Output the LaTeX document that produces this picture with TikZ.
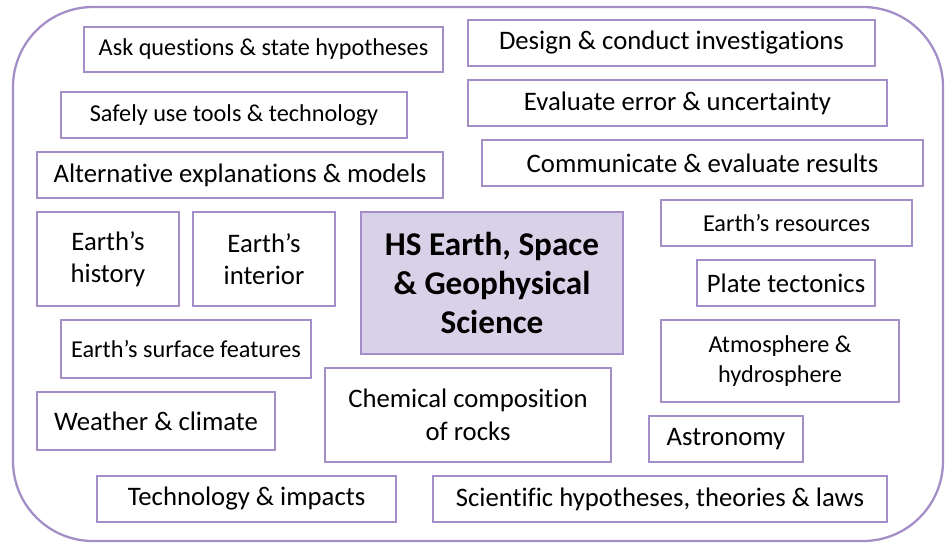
\documentclass[tikz,border=0pt]{standalone}
\usepackage{fontspec}
\setmainfont{Carlito}[Ligatures=CommonOff]
\definecolor{lavline}{HTML}{A48EC7}
\definecolor{lavfill}{HTML}{D9D1E8}
\begin{document}
\begin{tikzpicture}[x=0.02cm, y=-0.02cm,
    topic/.style={draw=lavline, line width=1.3pt, fill=white, align=center, inner sep=0pt,
        font=\fontsize{15.2}{18.5}\selectfont},
    small/.style={font=\fontsize{13.8}{17}\selectfont}]
    \useasboundingbox (0,0) rectangle (949,542);

    % Outer rounded frame
    \draw[lavline, line width=1.3pt, rounded corners=1.6cm] (13,7) rectangle (943,541);

    % Practices along the top
    \node[topic, small, minimum width=7.18cm, minimum height=0.9cm] at (263.5,49.5) (ask) {Ask questions \& state hypotheses};
    \node[topic, minimum width=8.14cm, minimum height=0.92cm] at (671.5,43) (design) {Design \& conduct investigations};
    \node[topic, small, minimum width=6.92cm, minimum height=0.92cm] at (234,115) (tools) {Safely use tools \& technology};
    \node[topic, minimum width=8.38cm, minimum height=0.92cm] at (677.5,103) (error) {Evaluate error \& uncertainty};
    \node[topic, minimum width=8.12cm, minimum height=0.92cm] at (240,175) (altern) {Alternative explanations \& models};
    \node[topic, minimum width=8.82cm, minimum height=0.92cm] at (702.5,163) (results) {Communicate \& evaluate results};

    % Central topic
    \node[topic, fill=lavfill, minimum width=5.24cm, minimum height=2.84cm,
        font=\fontsize{18.9}{22}\selectfont\bfseries] at (492,283) (hs) {HS Earth, Space\\\& Geophysical\\Science};

    % Content areas
    \node[topic, minimum width=2.84cm, minimum height=1.88cm] at (108,259) (history) {Earth’s\\history};
    \node[topic, minimum width=2.84cm, minimum height=1.88cm] at (264,259) (interior) {Earth’s\\interior};
    \node[topic, small, minimum width=5.02cm, minimum height=0.92cm] at (786.5,223) (resources) {Earth’s resources};
    \node[topic, minimum width=3.56cm, minimum height=0.92cm] at (786,283) (plates) {Plate tectonics};
    \node[topic, small, minimum width=4.76cm, minimum height=1.64cm] at (780,361) (atmos) {Atmosphere \&\\hydrosphere};
    \node[topic, small, minimum width=5cm, minimum height=1.16cm] at (186,349) (surface) {Earth’s surface features};
    \node[topic, minimum width=5.72cm, minimum height=1.88cm] at (468,415) (rocks) {Chemical composition\\of rocks};
    \node[topic, minimum width=4.76cm, minimum height=1.16cm] at (156,421) (weather) {Weather \& climate};
    \node[topic, minimum width=3.08cm, minimum height=0.92cm] at (726,439) (astro) {Astronomy};

    % Bottom row
    \node[topic, minimum width=5.98cm, minimum height=0.92cm] at (246.5,499) (impacts) {Technology \& impacts};
    \node[topic, minimum width=9.08cm, minimum height=0.92cm] at (660,499) (laws) {Scientific hypotheses, theories \& laws};
\end{tikzpicture}
\end{document}
